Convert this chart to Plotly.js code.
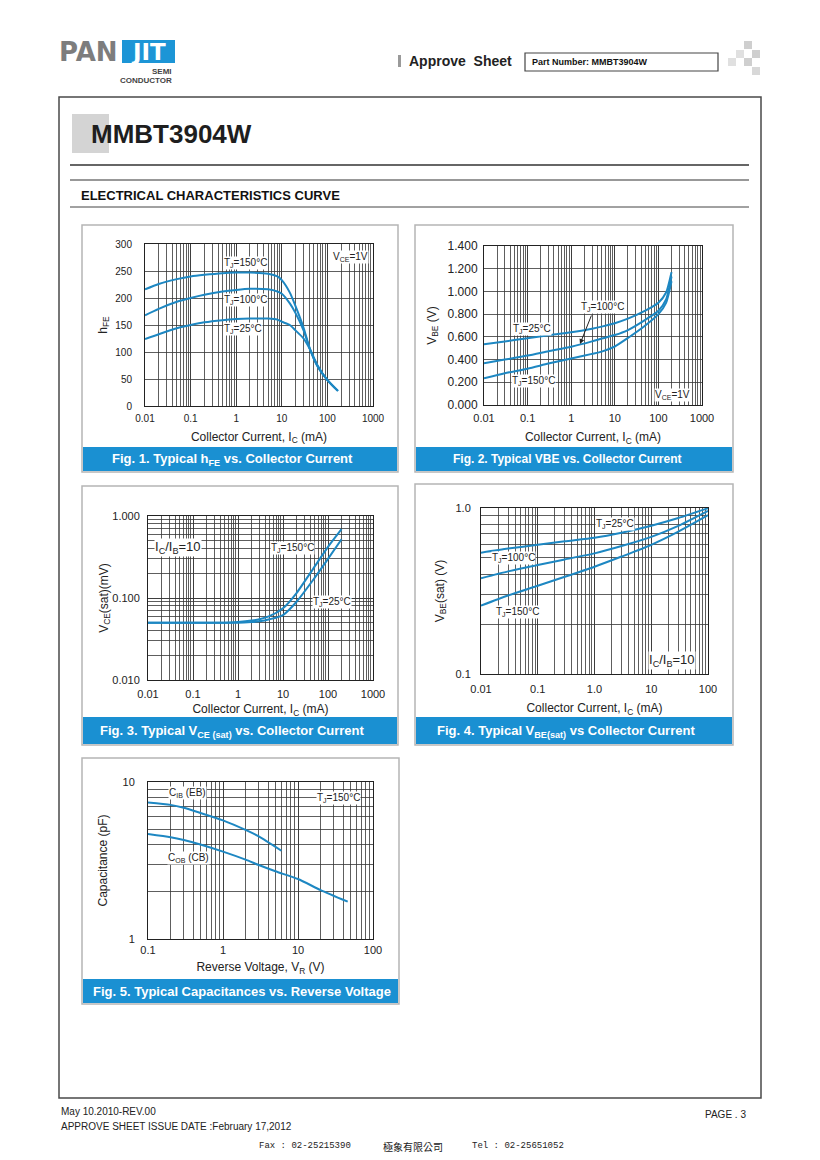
<!DOCTYPE html>
<html><head><meta charset="utf-8">
<script src="https://cdn.plot.ly/plotly-3.0.1.min.js"></script>
<style>html,body{margin:0;padding:0;background:#fff}#page{width:820px;height:1160px}</style>
</head><body><div id="page"></div>
<script>
// ---------------- DATA ----------------
// Fig.1  hFE vs Ic (VCE=1V)
const icHfe   = [0.01,0.02,0.05,0.1,0.2,0.5,1,2,5,8,10,15,20,30,42,60,100,170];
const hfe150  = [216,226,235,240,243,246,247,247,245,240,233,210,185,145,104,75,48,28];
const hfe100  = [168,180,193,200,206,212,215,217,216,212,208,190,172,140,104,74,48,28];
const hfe25   = [124,133,144,150,155,159,161,162,162,160,156,150,140,125,104,76,48,28];
// Fig.2  VBE vs Ic (VCE=1V)
const icVbe   = [0.01,0.03,0.1,0.3,1,3,5,10,20,50,100,150,200];
const vbe25   = [0.534,0.56,0.587,0.613,0.64,0.672,0.69,0.72,0.76,0.83,0.90,0.99,1.17];
const vbe100  = [0.367,0.40,0.435,0.473,0.513,0.56,0.585,0.616,0.66,0.75,0.83,0.93,1.13];
const vbe150  = [0.235,0.28,0.32,0.365,0.41,0.45,0.47,0.515,0.59,0.70,0.80,0.90,1.09];
// Fig.3  VCE(sat) vs Ic (Ic/Ib=10)
const icVce   = [0.01,0.1,0.5,1,2,3,5,10,20,50,100,200];
const vce150  = [0.05,0.05,0.05,0.051,0.053,0.055,0.06,0.075,0.115,0.24,0.42,0.69];
const vce25   = [0.05,0.05,0.05,0.05,0.051,0.052,0.055,0.062,0.09,0.175,0.30,0.52];
// Fig.4  VBE(sat) vs Ic (Ic/Ib=10)
const icVbs   = [0.01,0.03,0.1,0.3,1,3,10,30,100];
const vbs25   = [0.538,0.57,0.60,0.63,0.662,0.71,0.782,0.87,0.996];
const vbs100  = [0.377,0.415,0.454,0.49,0.533,0.59,0.67,0.78,0.96];
const vbs150  = [0.258,0.297,0.34,0.385,0.443,0.51,0.60,0.72,0.905];
// Fig.5  Capacitance vs VR
const vrCib   = [0.1,0.2,0.3,0.5,1,2,3,6];
const cib     = [7.4,7.15,6.85,6.35,5.7,4.95,4.5,3.65];
const vrCob   = [0.1,0.2,0.3,0.5,1,2,3,5,10,20,46];
const cob     = [4.67,4.45,4.27,4.0,3.6,3.2,2.96,2.7,2.41,2.05,1.73];
// tick labels
const icTicks    = [0.01,0.1,1,10,100,1000];
const icLabels   = ['0.01','0.1','1','10','100','1000'];
const ic4Ticks   = [0.01,0.1,1,10,100];
const ic4Labels  = ['0.01','0.1','1.0','10','100'];
const vrTicks    = [0.1,1,10,100];
const vrLabels   = ['0.1','1','10','100'];
const vce3Ticks  = [0.01,0.1,1];
const vce3Labels = ['0.010','0.100','1.000'];
const vbs4Ticks  = [0.1,1];
const vbs4Labels = ['0.1','1.0'];
const cTicks     = [1,10];
const cLabels    = ['1','10'];

// ---------------- LAYOUT HELPERS ----------------
const W=820,H=1160;
const X=p=>p/W, Y=p=>1-p/H;
const FONT='Arial, "Liberation Sans", sans-serif';
const LINE='#1d87c2', BAR='#1a90d2', GRID='#363636';

function baseAxis(d0,d1,opts){
  return Object.assign({domain:[d0,d1], showline:true, mirror:true, linecolor:'#222', linewidth:1,
    showgrid:true, gridcolor:GRID, gridwidth:0.8, zeroline:false, ticks:'', fixedrange:true,
    automargin:false, ticklabelstandoff:3,
    tickfont:{family:FONT,size:11,color:'#222'}}, opts);
}
const minorLog={dtick:'D1', showgrid:true, gridcolor:GRID, gridwidth:0.8, ticks:''};
function xt(text,standoff){return {text, font:{family:FONT,size:12,color:'#222'}, standoff};}

const layout={
  width:W, height:H, margin:{l:0,r:0,t:0,b:0}, showlegend:false,
  paper_bgcolor:'#fff', plot_bgcolor:'#fff',
  // Fig 1
  xaxis: baseAxis(X(145),X(373),{type:'log', range:[-2,3], tickmode:'array', tickvals:icTicks, ticktext:icLabels, minor:minorLog, anchor:'y', tickfont:{family:FONT,size:10,color:'#222'}, title:xt('Collector Current, I<sub>C</sub> (mA)',9)}),
  yaxis: baseAxis(Y(406),Y(244),{type:'linear', range:[0,300], dtick:50, anchor:'x', ticklabelstandoff:10, tickfont:{family:FONT,size:10,color:'#222'}, title:xt('h<sub>FE</sub>',5)}),
  // Fig 2
  xaxis2: baseAxis(X(484),X(702),{type:'log', range:[-2,3], tickmode:'array', tickvals:icTicks, ticktext:icLabels, minor:minorLog, anchor:'y2', title:xt('Collector Current, I<sub>C</sub> (mA)',9)}),
  yaxis2: baseAxis(Y(405),Y(246),{type:'linear', range:[0,1.4], dtick:0.2, tickformat:'.3f', anchor:'x2', ticklabelstandoff:3, tickfont:{family:FONT,size:12,color:'#222'}, title:xt('V<sub>BE</sub> (V)',8)}),
  // Fig 3
  xaxis3: baseAxis(X(148),X(373),{type:'log', range:[-2,3], tickmode:'array', tickvals:icTicks, ticktext:icLabels, minor:minorLog, anchor:'y3', ticklabelstandoff:4, title:xt('Collector Current, I<sub>C</sub> (mA)',5)}),
  yaxis3: baseAxis(Y(680),Y(516),{type:'log', range:[-2,0], tickmode:'array', tickvals:vce3Ticks, ticktext:vce3Labels, minor:minorLog, anchor:'x3', ticklabelstandoff:5, title:xt('V<sub>CE</sub>(sat)(mV)',1)}),
  // Fig 4
  xaxis4: baseAxis(X(481),X(708),{type:'log', range:[-2,2], tickmode:'array', tickvals:ic4Ticks, ticktext:ic4Labels, minor:minorLog, anchor:'y4', ticklabelstandoff:5, title:xt('Collector Current, I<sub>C</sub> (mA)',9)}),
  yaxis4: baseAxis(Y(674),Y(508),{type:'log', range:[-1,0], tickmode:'array', tickvals:vbs4Ticks, ticktext:vbs4Labels, minor:minorLog, anchor:'x4', ticklabelstandoff:7, title:xt('V<sub>BE</sub>(sat) (V)',8)}),
  // Fig 5
  xaxis5: baseAxis(X(148),X(373),{type:'log', range:[-1,2], tickmode:'array', tickvals:vrTicks, ticktext:vrLabels, minor:minorLog, anchor:'y5', ticklabelstandoff:1, title:xt('Reverse Voltage, V<sub>R</sub> (V)',7)}),
  yaxis5: baseAxis(Y(939),Y(782),{type:'log', range:[0,1], tickmode:'array', tickvals:cTicks, ticktext:cLabels, minor:minorLog, anchor:'x5', ticklabelstandoff:10, title:xt('Capacitance (pF)',12)}),
  shapes:[], annotations:[]
};

const S=layout.shapes, A=layout.annotations;
function rect(x0,y0,x1,y1,fill,line,lw,layer){S.push({type:'rect',xref:'paper',yref:'paper',x0:X(x0),x1:X(x1),y0:Y(y1),y1:Y(y0),fillcolor:fill||'rgba(0,0,0,0)',line:{color:line||'rgba(0,0,0,0)',width:lw||0},layer:layer||'above'});}
function hline(x0,x1,y,color,w){S.push({type:'line',xref:'paper',yref:'paper',x0:X(x0),x1:X(x1),y0:Y(y),y1:Y(y),line:{color,width:w}});}
function txt(x,y,text,size,opts){A.push(Object.assign({xref:'paper',yref:'paper',x:X(x),y:Y(y),text,showarrow:false,xanchor:'center',yanchor:'middle',font:{family:FONT,size,color:'#222'}},opts||{}));}
function lab(x,y,text,size){txt(x,y,text,size||10,{bgcolor:'#fff',borderpad:0});}

// ---------- page decoration ----------
// logo
txt(57,52,'PAN',26,{xanchor:'left',font:{family:'"DejaVu Sans", sans-serif',size:26,color:'#7d7d7d',weight:'bold'}});
rect(122,40,175,63,'#1c95d6');
txt(148.5,52,'JIT',23,{font:{family:'"DejaVu Sans", sans-serif',size:23,color:'#fff',weight:'bold'}});
txt(174,71,'SEMI',8,{xanchor:'right',font:{family:FONT,size:8,color:'#444',weight:'bold'}});
txt(174,80,'CONDUCTOR',8,{xanchor:'right',font:{family:FONT,size:8,color:'#444',weight:'bold'}});
// approve sheet
rect(398,55,401,67,'#9a9a9a');
txt(407,61,'Approve&nbsp;&nbsp;Sheet',14,{xanchor:'left',font:{family:FONT,size:14,color:'#222',weight:'bold'}});
rect(525,53,718,71,'#fff','#444',1.2);
txt(530,62,'Part Number: MMBT3904W',9,{xanchor:'left',font:{family:FONT,size:9,color:'#111',weight:'bold'}});
// checker
[[744,41,752,49,'#cfcfcf'],[736,50,744,58,'#e0e0e0'],[752,50,760,58,'#cfcfcf'],[728,58,736,66,'#e0e0e0'],[744,58,752,66,'#cfcfcf'],[752,67,760,75,'#d8d8d8']].forEach(s=>rect(s[0],s[1],s[2],s[3],s[4]));
// page frame
rect(59,97,761,1098,null,'#4a4a4a',1.5);
rect(72,114,109,153,'#d4d4d4',null,0,'below');
txt(89,134,'MMBT3904W',26,{xanchor:'left',font:{family:FONT,size:26,color:'#1e1e1e',weight:'bold'}});
hline(70,749,165,'#333',1.5);
hline(70,749,180,'#333',1.2);
txt(79,195,'ELECTRICAL CHARACTERISTICS CURVE',13,{xanchor:'left',font:{family:FONT,size:13,color:'#111',weight:'bold'}});
hline(70,749,207,'#444',1);
// panels
rect(82,225,398,472,null,'#b5b5b5',1.5);
rect(415,225,733,472,null,'#b5b5b5',1.5);
rect(82,486,398,745,null,'#b5b5b5',1.5);
rect(415,484,733,745,null,'#b5b5b5',1.5);
rect(82,758,399,1004,null,'#b5b5b5',1.5);
// caption bars
rect(83,447,397,471,BAR); rect(416,447,732,471,BAR);
rect(83,717,397,744,BAR); rect(416,717,732,744,BAR);
rect(83,979,398,1003,BAR);
const cap={family:FONT,size:13,color:'#fff',weight:'bold'};
txt(233,459,'Fig. 1. Typical h<sub>FE</sub> vs. Collector Current',13,{font:cap});
txt(567,459,'Fig. 2. Typical VBE vs. Collector Current',12,{font:Object.assign({},cap,{size:12})});
txt(233,731,'Fig. 3. Typical V<sub>CE (sat)</sub> vs. Collector Current',13,{font:cap});
txt(566,731,'Fig. 4. Typical V<sub>BE(sat)</sub> vs Collector Current',13,{font:cap});
txt(242,991,'Fig. 5. Typical Capacitances vs. Reverse Voltage',13,{font:cap});

// chart labels
lab(245,263,'T<sub>J</sub>=150°C'); lab(245,300,'T<sub>J</sub>=100°C'); lab(243,329,'T<sub>J</sub>=25°C'); lab(350,257,'V<sub>CE</sub>=1V');
lab(602,307,'T<sub>J</sub>=100°C'); lab(532,329,'T<sub>J</sub>=25°C'); lab(533,381,'T<sub>J</sub>=150°C'); lab(672,395,'V<sub>CE</sub>=1V');
A.push({xref:'paper',yref:'paper',x:X(580),y:Y(344),ax:12,ay:-30,text:'',showarrow:true,arrowhead:2,arrowsize:1,arrowwidth:1,arrowcolor:'#222'});
lab(178,548,'I<sub>C</sub>/I<sub>B</sub>=10',13); lab(292,548,'T<sub>J</sub>=150°C'); lab(332,602,'T<sub>J</sub>=25°C');
lab(615,524,'T<sub>J</sub>=25°C'); lab(513,558,'T<sub>J</sub>=100°C'); lab(517,612,'T<sub>J</sub>=150°C'); lab(672,660,'I<sub>C</sub>/I<sub>B</sub>=10',13);
lab(187,793,'C<sub>IB</sub> (EB)'); lab(338,798,'T<sub>J</sub>=150°C'); lab(188,858,'C<sub>OB</sub> (CB)');

// footer
txt(59,1111,'May 10.2010-REV.00',10,{xanchor:'left',font:{family:FONT,size:10,color:'#222'}});
txt(59,1126,'APPROVE SHEET ISSUE DATE :February 17,2012',10,{xanchor:'left',font:{family:FONT,size:10,color:'#222'}});
txt(748,1114,'PAGE . 3',10,{xanchor:'right',font:{family:FONT,size:10,color:'#222'}});
const mono={family:'"Liberation Mono", "DejaVu Sans Mono", monospace',size:9,color:'#222'};
txt(257,1146,'Fax : 02-25215390',9,{xanchor:'left',font:mono});
txt(413,1146,'極象有限公司',10,{font:{family:'"Noto Sans CJK TC", sans-serif',size:10,color:'#222'}});
txt(470,1146,'Tel : 02-25651052',9,{xanchor:'left',font:mono});

// ---------------- TRACES ----------------
function tr(x,y,xa,ya){return {x,y,xaxis:xa,yaxis:ya,type:'scatter',mode:'lines',hoverinfo:'skip',
  line:{color:LINE,width:2,shape:'spline',smoothing:0.6}};}
const data=[
  tr(icHfe,hfe150,'x','y'), tr(icHfe,hfe100,'x','y'), tr(icHfe,hfe25,'x','y'),
  tr(icVbe,vbe25,'x2','y2'), tr(icVbe,vbe100,'x2','y2'), tr(icVbe,vbe150,'x2','y2'),
  tr(icVce,vce150,'x3','y3'), tr(icVce,vce25,'x3','y3'),
  tr(icVbs,vbs25,'x4','y4'), tr(icVbs,vbs100,'x4','y4'), tr(icVbs,vbs150,'x4','y4'),
  tr(vrCib,cib,'x5','y5'), tr(vrCob,cob,'x5','y5')
];
Plotly.newPlot('page',data,layout,{staticPlot:true,displayModeBar:false});
</script></body></html>
